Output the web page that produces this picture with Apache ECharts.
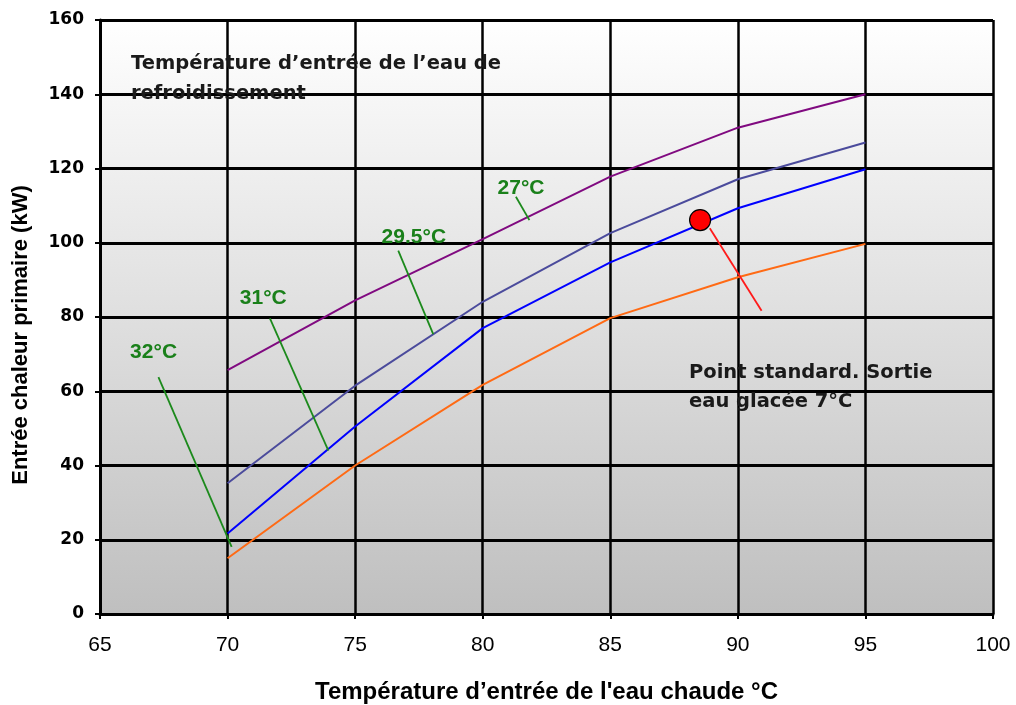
<!DOCTYPE html>
<html>
<head>
<meta charset="utf-8">
<script src="https://cdn.jsdelivr.net/npm/echarts@6/dist/echarts.min.js"></script>
<style>
  html, body { margin: 0; padding: 0; background: #fff; }
  #chart { width: 1016px; height: 705px; }
</style>
</head>
<body>
<div id="chart"></div>
<script>
  // hot water inlet temperature (°C)
  const xTemps = [70, 75, 80, 85, 90, 95];
  // primary heat input (kW) per cooling water inlet temperature
  const s27 = [65.7, 84.5, 101, 117.8, 131, 140];
  const s295 = [35.2, 61.5, 84.1, 102.6, 117.1, 127];
  const s31 = [21.7, 50.5, 77, 94.7, 109.3, 119.8];
  const s32 = [15, 40, 61.7, 79.7, 90.7, 99.7];
  const seriesNames = ['27°C', '29.5°C', '31°C', '32°C'];

  const stdPoint = [88.52, 106.1];
  const stdLeader = [[88.9, 103.9], [90.93, 81.7]];

  const leaderLabels = ['32°C', '31°C', '29.5°C', '27°C'];
  const leaderLabelPos = [[67.1, 70.5], [71.4, 85], [77.3, 101.6], [81.5, 114.6]];
  const leaderFrom = [[67.29, 63.8], [71.66, 79.6], [76.69, 97.9], [81.3, 112.4]];
  const leaderTo = [[70.16, 18.1], [73.95, 44], [78.06, 75.4], [81.83, 106.1]];

  const xTicks = { min: 65, max: 100, interval: 5 };
  const yTicks = { min: 0, max: 160, interval: 20 };

  const chart = echarts.init(document.getElementById('chart'));

  const pair = arr => xTemps.map((x, i) => [x, arr[i]]);
  const lineSeries = (name, data, color) => ({
    name,
    type: 'line',
    data: pair(data),
    symbol: 'none',
    lineStyle: { color, width: 2 },
    z: 3,
  });

  const noteFont = 'bold 19.5px "DejaVu Sans"';

  chart.setOption({
    animation: false,
    grid: {
      left: 100, right: 23, top: 20, bottom: 91,
      outerBoundsMode: 'none',
      containLabel: false,
      show: true,
      borderWidth: 0,
      backgroundColor: new echarts.graphic.LinearGradient(0, 0, 0, 1, [
        { offset: 0, color: '#ffffff' },
        { offset: 1, color: '#bfbfbf' },
      ]),
    },
    xAxis: {
      type: 'value',
      min: xTicks.min, max: xTicks.max, interval: xTicks.interval,
      name: 'Température d’entrée de l\'eau chaude °C',
      nameLocation: 'middle',
      nameGap: 66,
      nameTextStyle: { fontFamily: 'Liberation Sans', fontWeight: 'bold', fontSize: 24, color: '#000' },
      axisLine: { lineStyle: { color: '#000', width: 3 } },
      axisTick: { show: true, length: 5, lineStyle: { color: '#000', width: 2 } },
      axisLabel: { margin: 21, fontFamily: 'Liberation Sans', fontSize: 21, color: '#000' },
      splitLine: { show: true, lineStyle: { color: '#000', width: 2.5 } },
    },
    yAxis: {
      type: 'value',
      min: yTicks.min, max: yTicks.max, interval: yTicks.interval,
      name: 'Entrée chaleur primaire (kW)',
      nameLocation: 'middle',
      nameGap: 68,
      nameTextStyle: { fontFamily: 'Liberation Sans', fontWeight: 'bold', fontSize: 22, color: '#000', padding: [0, 36, 0, 0] },
      axisLine: { lineStyle: { color: '#000', width: 3 } },
      axisTick: { show: true, length: 5, lineStyle: { color: '#000', width: 2 } },
      axisLabel: { margin: 16, fontFamily: 'DejaVu Sans', fontWeight: 'bold', fontSize: 17, color: '#000' },
      splitLine: { show: true, lineStyle: { color: '#000', width: 3 } },
    },
    series: [
      lineSeries(seriesNames[0], s27, '#800a80'),
      lineSeries(seriesNames[1], s295, '#4b4b9c'),
      lineSeries(seriesNames[2], s31, '#0000ff'),
      lineSeries(seriesNames[3], s32, '#ff6a14'),
      {
        name: 'annotations',
        type: 'scatter',
        data: [],
        z: 4,
        markLine: {
          silent: true,
          symbol: 'none',
          animation: false,
          label: { show: false },
          lineStyle: { type: 'solid', width: 1.8 },
          data: leaderFrom.map((p, i) => [
            { coord: p, lineStyle: { color: '#1c8a1c' } },
            { coord: leaderTo[i] },
          ]).concat([[
            { coord: stdLeader[0], lineStyle: { color: '#ff1a1a' } },
            { coord: stdLeader[1] },
          ]]),
        },
        markPoint: {
          silent: true,
          symbolSize: 0,
          label: {
            show: true,
            position: 'inside',
            color: '#1a801a',
            fontFamily: 'Liberation Sans',
            fontWeight: 'bold',
            fontSize: 21,
            formatter: p => p.name,
          },
          data: leaderLabels.map((t, i) => ({ name: t, coord: leaderLabelPos[i] })),
        },
      },
      {
        name: 'Point standard',
        type: 'scatter',
        data: [stdPoint],
        symbolSize: 21,
        itemStyle: { color: '#ff0000', borderColor: '#000', borderWidth: 1.2, opacity: 1 },
        z: 5,
      },
    ],
    graphic: [
      {
        type: 'text', left: 131, top: 54, z: 1,
        style: { text: 'Température d’entrée de l’eau de', font: noteFont, fill: '#1a1a1a' },
      },
      {
        type: 'text', left: 131, top: 84, z: 1,
        style: { text: 'refroidissement', font: noteFont, fill: '#1a1a1a' },
      },
      {
        type: 'text', left: 689, top: 363, z: 1,
        style: { text: 'Point standard. Sortie', font: noteFont, fill: '#1a1a1a' },
      },
      {
        type: 'text', left: 689, top: 392, z: 1,
        style: { text: 'eau glacée 7°C', font: noteFont, fill: '#1a1a1a' },
      },
    ],
  });
</script>
</body>
</html>
